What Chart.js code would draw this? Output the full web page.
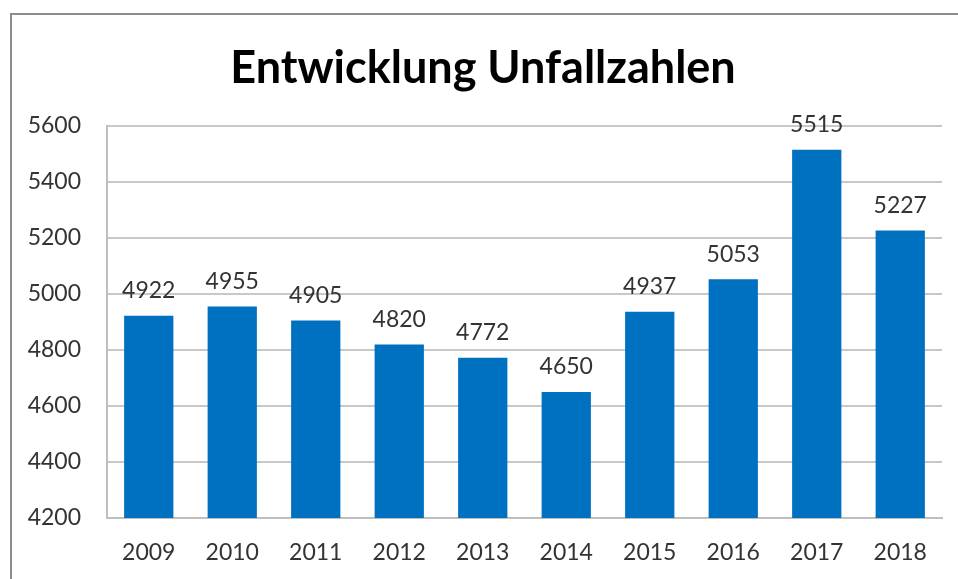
<!DOCTYPE html>
<html>
<head>
<meta charset="utf-8">
<script src="https://cdn.jsdelivr.net/npm/chart.js@4.4.0/dist/chart.umd.min.js"></script>
<style>
html, body { margin: 0; padding: 0; background: #fff; overflow: hidden; }
#frame { position: absolute; left: 10px; top: 13px; width: 1000px; height: 1000px; border: 2px solid #8c8c8c; }
#c { position: absolute; left: 0; top: 0; }
</style>
</head>
<body>
<div id="frame"></div>
<canvas id="c" width="958" height="579"></canvas>
<script>
var years = ['2009', '2010', '2011', '2012', '2013', '2014', '2015', '2016', '2017', '2018'];
var unfaelle = [4922, 4955, 4905, 4820, 4772, 4650, 4937, 5053, 5515, 5227];
var yMin = 4200;
var yMax = 5600;
var yStep = 200;

var FONT = 'Lato, "Open Sans", sans-serif';

// value labels above each bar
const valueLabels = {
  id: 'valueLabels',
  afterDatasetsDraw(chart) {
    const ctx = chart.ctx;
    const meta = chart.getDatasetMeta(0);
    ctx.save();
    ctx.font = '23px ' + FONT;
    ctx.fillStyle = '#333';
    ctx.textAlign = 'center';
    ctx.textBaseline = 'middle';
    meta.data.forEach((bar, i) => {
      ctx.fillText(unfaelle[i], bar.x, bar.y - 25);
    });
    ctx.restore();
  }
};

new Chart(document.getElementById('c'), {
  type: 'bar',
  data: {
    labels: years,
    datasets: [{
      data: unfaelle,
      backgroundColor: '#0070c0',
      barPercentage: 0.59,
      categoryPercentage: 1
    }]
  },
  options: {
    responsive: false,
    animation: false,
    devicePixelRatio: 1,
    layout: { padding: { left: 24, right: 16, top: 0, bottom: 0 } },
    plugins: {
      legend: { display: false },
      tooltip: { enabled: false },
      title: {
        display: true,
        text: 'Entwicklung Unfallzahlen',
        color: '#000',
        font: { family: FONT, size: 45, weight: 'bold', lineHeight: 1.2 },
        padding: { top: 41, bottom: 31 }
      }
    },
    scales: {
      x: {
        grid: { display: false, drawTicks: false },
        border: { color: '#bfbfbf', width: 2 },
        ticks: { color: '#333', font: { family: FONT, size: 23 }, padding: 21 },
        afterFit: (s) => { s.height = 61; }
      },
      y: {
        min: yMin,
        max: yMax,
        ticks: {
          stepSize: yStep, color: '#333', font: { family: FONT, size: 23 }, padding: 26,
          callback: (v) => String(v)
        },
        grid: { color: '#c8c8c8', lineWidth: 2, drawTicks: false },
        border: { color: '#bfbfbf', width: 2 },
        afterFit: (s) => { s.width = 83; }
      }
    }
  },
  plugins: [valueLabels]
});
</script>
</body>
</html>
